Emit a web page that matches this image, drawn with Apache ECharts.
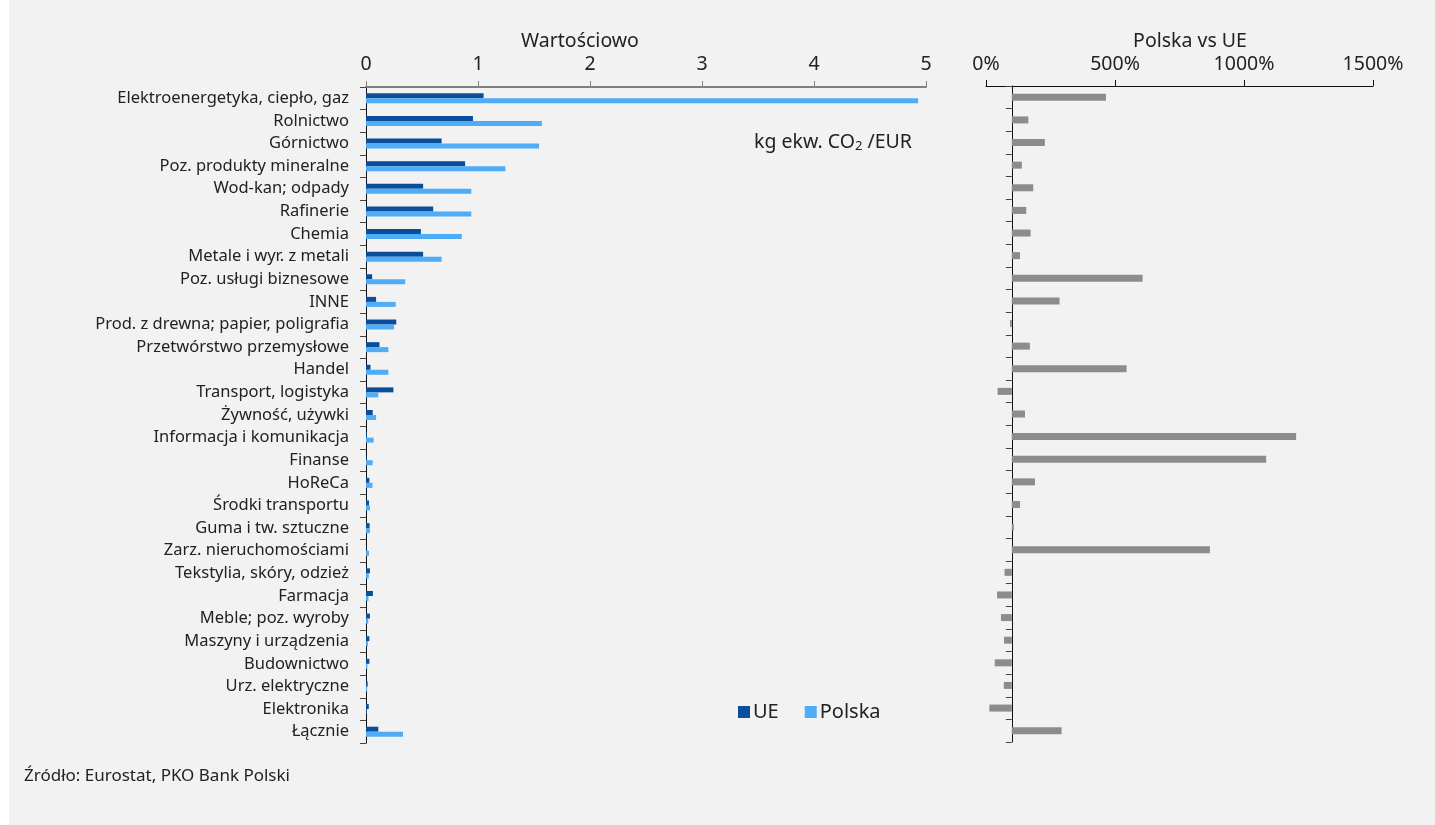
<!DOCTYPE html>
<html>
<head>
<meta charset="utf-8">
<script src="https://cdn.jsdelivr.net/npm/echarts@6/dist/echarts.min.js"></script>
<style>
html,body{margin:0;padding:0;background:#ffffff;}
#chart{width:1435px;height:825px;}
</style>
</head>
<body>
<div id="chart"></div>
<script>
const categories = [
  'Elektroenergetyka, ciepło, gaz','Rolnictwo','Górnictwo','Poz. produkty mineralne','Wod-kan; odpady',
  'Rafinerie','Chemia','Metale i wyr. z metali','Poz. usługi biznesowe','INNE',
  'Prod. z drewna; papier, poligrafia','Przetwórstwo przemysłowe','Handel','Transport, logistyka','Żywność, używki',
  'Informacja i komunikacja','Finanse','HoReCa','Środki transportu','Guma i tw. sztuczne',
  'Zarz. nieruchomościami','Tekstylia, skóry, odzież','Farmacja','Meble; poz. wyroby','Maszyny i urządzenia',
  'Budownictwo','Urz. elektryczne','Elektronika','Łącznie'
];
const ueValues = [1.05,0.955,0.675,0.885,0.51,0.6,0.49,0.51,0.055,0.09,0.27,0.12,0.04,0.245,0.06,0.008,0.005,0.03,0.027,0.032,0.003,0.035,0.062,0.035,0.03,0.03,0.015,0.025,0.11];
const plValues = [4.93,1.57,1.545,1.245,0.94,0.94,0.855,0.675,0.35,0.265,0.25,0.2,0.2,0.11,0.09,0.068,0.06,0.058,0.036,0.035,0.027,0.025,0.022,0.02,0.018,0.012,0.01,0.004,0.33];
const ratioValues = [465,164,228,139,183,156,173,132,607,285,93,170,545,45,151,1202,1086,190,132,108,868,72,43,58,70,34,69,13,293];
const leftTicks = [0,1,2,3,4,5];
const rightTicks = [0,500,1000,1500];
const baseline = 100;

const FONT = 'Noto Sans';
const chart = echarts.init(document.getElementById('chart'), null, {renderer:'canvas'});

const ratioBase = ratioValues.map(v => Math.min(v, baseline));
const ratioBar = ratioValues.map(v => Math.abs(v - baseline));

const option = {
  backgroundColor: 'transparent',
  animation: false,
  textStyle: {fontFamily: FONT},
  graphic: [
    {type:'rect', left:9, top:0, shape:{width:1426, height:825}, style:{fill:'#f2f2f2'}, z:-10},
    {type:'text', left:24, top:768, style:{text:'Źródło: Eurostat, PKO Bank Polski', font:'17px "Noto Sans"', fill:'#222'}}
  ],
  title: [
    {text:'Wartościowo', left:575, top:26, textAlign:'center', textStyle:{fontSize:19.5, fontWeight:'normal', color:'#222', fontFamily:FONT}},
    {text:'Polska vs UE', left:1185, top:26, textAlign:'center', textStyle:{fontSize:19.5, fontWeight:'normal', color:'#222', fontFamily:FONT}},
    {text:'kg ekw. CO{s|2} /EUR', right:518, top:126, textStyle:{fontSize:19.5, fontWeight:'normal', color:'#222', fontFamily:FONT,
      rich:{s:{fontSize:13, verticalAlign:'bottom', padding:[9,0,0,0], color:'#222', fontFamily:FONT}}}}
  ],
  legend: {
    data: ['UE','Polska'],
    left: 733, top: 697,
    icon: 'rect', itemWidth: 12, itemHeight: 12, itemGap: 26,
    textStyle: {fontSize: 20, color:'#222', fontFamily: FONT, padding:[0,0,0,-2]}
  },
  grid: [
    {left:366, top:87, width:560, height:656},
    {left:986, top:86, width:387, height:656}
  ],
  xAxis: [
    {type:'value', gridIndex:0, position:'top', min:0, max:5, interval:1,
     axisLine:{show:true, lineStyle:{color:'#808080', width:2}},
     axisTick:{show:true, length:6, lineStyle:{color:'#808080'}},
     axisLabel:{fontSize:19.5, color:'#222', margin:13},
     splitLine:{show:false}},
    {type:'value', gridIndex:1, position:'top', min:0, max:1500, interval:500,
     axisLine:{show:true, lineStyle:{color:'#111', width:1}},
     axisTick:{show:true, length:6, lineStyle:{color:'#111'}},
     axisLabel:{fontSize:19.5, color:'#222', margin:12, formatter: v => v + '%'},
     splitLine:{show:false}}
  ],
  yAxis: [
    {type:'category', gridIndex:0, data:categories, inverse:true,
     axisLine:{show:true, lineStyle:{color:'#111'}},
     axisTick:{show:true, length:6, lineStyle:{color:'#444'}},
     axisLabel:{fontSize:16.5, color:'#222', margin:17, padding:[3,0,0,0]}},
    {type:'category', gridIndex:1, data:categories, inverse:true, offset:-25.8,
     axisLine:{show:true, onZero:false, lineStyle:{color:'#111'}},
     axisTick:{show:true, length:6, lineStyle:{color:'#444'}},
     axisLabel:{show:false}}
  ],
  series: [
    {name:'UE', type:'bar', xAxisIndex:0, yAxisIndex:0, data:ueValues, barWidth:5, barGap:'0%',
     itemStyle:{color:'#0a4e9b'}},
    {name:'Polska', type:'bar', xAxisIndex:0, yAxisIndex:0, data:plValues, barWidth:5, barGap:'0%',
     itemStyle:{color:'#4facf6'}},
    {name:'base', type:'bar', xAxisIndex:1, yAxisIndex:1, stack:'r', data:ratioBase, barWidth:7,
     itemStyle:{color:'rgba(0,0,0,0)'}, silent:true},
    {name:'Polska vs UE', type:'bar', xAxisIndex:1, yAxisIndex:1, stack:'r', data:ratioBar, barWidth:7,
     itemStyle:{color:'#8c8c8c'}}
  ]
};
chart.setOption(option);
</script>
</body>
</html>
